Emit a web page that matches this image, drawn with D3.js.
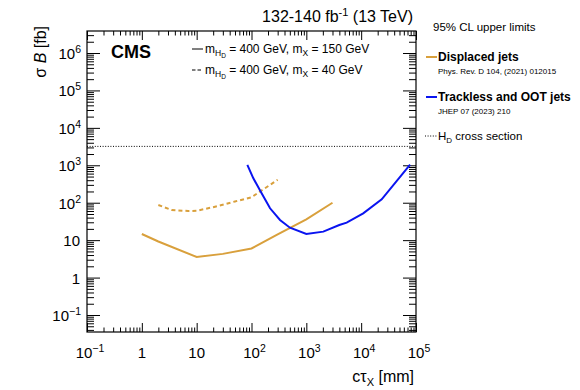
<!DOCTYPE html>
<html><head><meta charset="utf-8">
<script src="https://cdn.jsdelivr.net/npm/d3@7"></script>
<style>body{margin:0;background:#fff}svg{display:block}text{font-family:"Liberation Sans",Arial,sans-serif;fill:#000}</style>
</head><body><svg id="c" width="580" height="390"></svg>
<script>
// Data
const displacedCtau = [1, 2, 10, 30, 100, 300, 1000, 3000];
const displacedSigma = [14.6, 9.2, 3.55, 4.3, 6.0, 14.3, 36, 100];
const displaced40Ctau = [2, 3.5, 7, 10, 20, 50, 100, 300];
const displaced40Sigma = [87, 64, 60, 61, 76, 108, 140, 410];
const tracklessCtau = [84, 108, 153, 218, 331, 503, 1000, 2040, 3990, 5440, 10900, 23700, 78000];
const tracklessSigma = [1030, 449, 179, 71, 34.5, 21.5, 14.7, 16.9, 25.4, 29.3, 52, 123, 1040];
const hdCrossSection = 3200;
const xTickExp = [-1, 0, 1, 2, 3, 4, 5];
const yTickExp = [-1, 0, 1, 2, 3, 4, 5, 6];

const svg = d3.select("#c");
const L = 87, R = 416, T = 31, B = 332;
const x = d3.scaleLog().domain([0.1, 1e5]).range([L, R]);
const y = d3.scaleLog().domain([Math.pow(10, -1.454), Math.pow(10, 6.588)]).range([B, T]);

const orange = "#d9a03c", blue = "#0a14f0";

function minors(dom) {
  const out = [];
  const lo = Math.floor(Math.log10(dom[0])), hi = Math.ceil(Math.log10(dom[1]));
  for (let e = lo; e <= hi; e++) for (let m = 2; m <= 9; m++) {
    const v = m * Math.pow(10, e);
    if (v > dom[0] && v < dom[1]) out.push(v);
  }
  return out;
}
const xMaj = xTickExp.map(e => Math.pow(10, e));
const yMaj = yTickExp.map(e => Math.pow(10, e));

function drawAxis(gen, tx, ty, vals, size) {
  const g = svg.append("g").attr("transform", `translate(${tx},${ty})`)
    .call(gen.tickValues(vals).tickFormat("").tickSizeInner(size).tickSizeOuter(0));
  g.select(".domain").remove();
  g.selectAll("line").attr("stroke", "#000").attr("stroke-width", 1);
}
// bottom / top
drawAxis(d3.axisBottom(x), 0, B, xMaj, -9);
drawAxis(d3.axisBottom(x), 0, B, minors(x.domain()), -4.5);
drawAxis(d3.axisTop(x), 0, T, xMaj, -9);
drawAxis(d3.axisTop(x), 0, T, minors(x.domain()), -4.5);
// left / right
drawAxis(d3.axisLeft(y), L, 0, yMaj, -13);
drawAxis(d3.axisLeft(y), L, 0, minors(y.domain()), -7);
drawAxis(d3.axisRight(y), R, 0, yMaj, -13);
drawAxis(d3.axisRight(y), R, 0, minors(y.domain()), -7);

svg.append("rect").attr("x", L).attr("y", T).attr("width", R - L).attr("height", B - T)
  .attr("fill", "none").attr("stroke", "#000").attr("stroke-width", 1.2);

function powLabel(sel, e) {
  if (e === 0) { sel.text("1"); return; }
  if (e === 1) { sel.text("10"); return; }
  sel.append("tspan").text("10");
  sel.append("tspan").attr("dy", -6).attr("font-size", "10.5px").text(e < 0 ? "\u2212" + (-e) : e);
}
// x tick labels
xTickExp.forEach(e => {
  const t = svg.append("text").attr("x", x(Math.pow(10, e)) + (e > 1 || e < 0 ? 3 : 0)).attr("y", 358)
    .attr("text-anchor", "middle").attr("font-size", "15px");
  powLabel(t, e);
});
// y tick labels
yTickExp.forEach(e => {
  const t = svg.append("text").attr("x", e > 1 || e < 0 ? 81 : 80).attr("y", y(Math.pow(10, e)) + 6)
    .attr("text-anchor", "end").attr("font-size", "15px");
  powLabel(t, e);
});

// axis titles
const xt = svg.append("text").attr("x", 414).attr("y", 382).attr("text-anchor", "end").attr("font-size", "16px");
xt.append("tspan").text("c\u03C4");
xt.append("tspan").attr("dy", 4).attr("font-size", "11px").text("X");
xt.append("tspan").attr("dy", -4).text(" [mm]");
const yt = svg.append("text").attr("transform", "translate(46,26) rotate(-90)").attr("text-anchor", "end").attr("font-size", "16px");
yt.append("tspan").text("\u03C3 ");
yt.append("tspan").attr("font-style", "italic").text("B");
yt.append("tspan").text(" [fb]");

// clip
svg.append("clipPath").attr("id", "clip").append("rect").attr("x", L).attr("y", T).attr("width", R - L).attr("height", B - T);
const plot = svg.append("g").attr("clip-path", "url(#clip)");
const line = d3.line().x(d => x(d[0])).y(d => y(d[1]));

plot.append("line").attr("x1", L).attr("x2", R).attr("y1", y(hdCrossSection)).attr("y2", y(hdCrossSection))
  .attr("stroke", "#000").attr("stroke-width", 1).attr("stroke-dasharray", "1,1.6");
plot.append("path").datum(d3.zip(displacedCtau, displacedSigma)).attr("d", line)
  .attr("fill", "none").attr("stroke", orange).attr("stroke-width", 2);
plot.append("path").datum(d3.zip(displaced40Ctau, displaced40Sigma)).attr("d", line)
  .attr("fill", "none").attr("stroke", orange).attr("stroke-width", 2).attr("stroke-dasharray", "4,3");
plot.append("path").datum(d3.zip(tracklessCtau, tracklessSigma)).attr("d", line)
  .attr("fill", "none").attr("stroke", blue).attr("stroke-width", 2);

// header
const hdr = svg.append("text").attr("x", 413).attr("y", 22).attr("text-anchor", "end").attr("font-size", "16px");
hdr.append("tspan").text("132-140 fb");
hdr.append("tspan").attr("dy", -6).attr("font-size", "11px").text("-1");
hdr.append("tspan").attr("dy", 6).text(" (13 TeV)");
svg.append("text").attr("x", 111).attr("y", 58).attr("font-size", "18px").attr("font-weight", "bold").text("CMS");

// left legend
function massLegend(yy, dash, mx) {
  svg.append("line").attr("x1", 192).attr("x2", 203).attr("y1", yy).attr("y2", yy)
    .attr("stroke", "#000").attr("stroke-width", 1).attr("stroke-dasharray", dash);
  const t = svg.append("text").attr("x", 205).attr("y", yy + 4).attr("font-size", "12px");
  t.append("tspan").text("m");
  t.append("tspan").attr("dy", 3).attr("font-size", "8.5px").text("H");
  t.append("tspan").attr("dy", 1.5).attr("font-size", "6.5px").text("D");
  t.append("tspan").attr("dy", -4.5).text(" = 400 GeV, m");
  t.append("tspan").attr("dy", 3).attr("font-size", "8.5px").text("X");
  t.append("tspan").attr("dy", -3).text(` = ${mx} GeV`);
}
massLegend(49, null, 150);
massLegend(70, "3.5,2", 40);

// right legend
svg.append("text").attr("x", 433).attr("y", 31).attr("font-size", "11.5px").text("95% CL upper limits");
function entry(yy, color, title, sub) {
  svg.append("line").attr("x1", 426).attr("x2", 437).attr("y1", yy).attr("y2", yy).attr("stroke", color).attr("stroke-width", 2);
  svg.append("text").attr("x", 438).attr("y", yy + 4).attr("font-size", "12px").attr("font-weight", "bold").text(title);
  svg.append("text").attr("x", 438).attr("y", yy + 17).attr("font-size", "8px").text(sub);
}
entry(57, orange, "Displaced jets", "Phys. Rev. D 104, (2021) 012015");
entry(97, blue, "Trackless and OOT jets", "JHEP 07 (2023) 210");
svg.append("line").attr("x1", 425).attr("x2", 437).attr("y1", 136).attr("y2", 136)
  .attr("stroke", "#000").attr("stroke-width", 1).attr("stroke-dasharray", "1,1.6");
const hd = svg.append("text").attr("x", 438).attr("y", 140).attr("font-size", "11.5px");
hd.append("tspan").text("H");
hd.append("tspan").attr("dy", 3).attr("font-size", "8px").text("D");
hd.append("tspan").attr("dy", -3).text(" cross section");
</script></body></html>
